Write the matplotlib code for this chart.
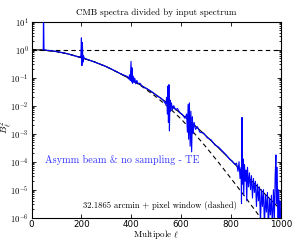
import matplotlib
matplotlib.use("Agg")
import matplotlib.pyplot as plt
from matplotlib.ticker import FixedLocator, FuncFormatter, LogLocator, NullFormatter
import numpy as np

plt.rcParams["mathtext.fontset"] = "cm"

# smooth beam curve and beam + pixel window curve (log10 values)
ell_grid = [0, 50, 100, 150, 200, 250, 300, 350, 400, 450, 500, 550, 600, 650,
            700, 750, 800, 850, 900, 950, 1000]
beam_log = [0, -0.02, -0.07, -0.16, -0.29, -0.43, -0.61, -0.83, -1.07, -1.33, -1.62,
            -1.94, -2.29, -2.67, -3.08, -3.51, -3.95, -4.40, -4.84, -5.28, -5.72]
pixwin_log = [0, -0.02, -0.07, -0.16, -0.29, -0.43, -0.61, -0.83, -1.07, -1.36, -1.69,
              -2.06, -2.48, -2.96, -3.48, -4.03, -4.60, -5.18, -5.78, -6.40, -7.05]

# measured spectrum ratio (log10 values)
meas_ell = [47, 48, 49, 50, 60, 80, 100, 120, 140, 160, 180, 195, 198, 200, 202, 204, 206,
            208, 212, 230, 260, 290, 320, 350, 370, 385, 390, 393, 396, 399, 401, 403, 405,
            408, 411, 414, 418, 422, 428, 435, 445, 460, 475, 490, 505, 520, 530, 538, 542,
            545, 547, 549, 551, 553, 555, 558, 561, 565, 570, 578, 585, 595, 605, 615, 622,
            625, 628, 630, 633, 636, 639, 642, 645, 648, 652, 658, 665, 675, 690, 705, 720,
            735, 750, 765, 780, 795, 805, 815, 822, 828, 832, 836, 840, 842, 844, 846, 848,
            851, 854, 857, 860, 863, 866, 870, 874, 878, 882, 886, 890, 894, 898, 902, 906,
            910, 914, 918, 922, 926, 930, 934, 938, 942, 946, 950, 954, 958, 962, 966, 970,
            974, 977, 980, 982, 985, 988, 991, 994, 996, 998, 1000]
meas_log = [0.0, 1.6, 0.6, 0.0, -0.02, -0.04, -0.07, -0.10, -0.14, -0.19, -0.24, -0.27,
            -0.20, 0.42, -0.57, 0.25, -0.45, -0.22, -0.31, -0.37, -0.47, -0.57, -0.69, -0.83,
            -0.91, -0.96, -1.05, -0.90, -1.10, -0.42, -1.15, -0.65, -1.20, -0.95, -1.18, -1.02,
            -1.22, -1.10, -1.22, -1.20, -1.32, -1.38, -1.46, -1.55, -1.66, -1.74, -1.83, -1.95,
            -1.70, -2.30, -1.30, -2.60, -1.25, -2.90, -1.80, -2.20, -1.90, -2.15, -2.00, -2.15,
            -2.10, -2.25, -2.32, -2.45, -2.30, -2.95, -1.95, -3.20, -1.90, -3.45, -2.20, -3.65,
            -2.40, -3.00, -2.60, -2.85, -2.75, -2.95, -2.98, -3.15, -3.22, -3.40, -3.48, -3.62,
            -3.75, -3.92, -3.98, -4.10, -4.05, -4.35, -4.00, -4.60, -4.20, -5.50, -2.42, -4.80,
            -3.90, -5.20, -4.10, -4.70, -4.30, -5.40, -4.20, -4.90, -4.40, -5.00, -4.50, -5.30,
            -4.60, -5.10, -4.70, -5.60, -4.80, -5.40, -4.90, -6.20, -5.00, -5.60, -5.00, -6.30,
            -5.20, -5.80, -5.10, -6.40, -5.30, -5.90, -5.20, -6.50, -5.00, -6.00, -4.50, -3.76,
            -5.50, -4.20, -6.50, -5.00, -6.20, -5.40, -6.50, -5.80]

xticks = [0, 200, 400, 600, 800, 1000]

fig = plt.figure(figsize=(2.92, 2.40), dpi=100)
ax = fig.add_axes([0.108, 0.093, 0.854, 0.817])

ax.semilogy(ell_grid, 10.0 ** np.array(beam_log), color="black", lw=0.8, zorder=2)
ax.semilogy(ell_grid, 10.0 ** np.array(pixwin_log), color="black", lw=0.8,
            linestyle=(0, (4, 3)), zorder=2)
ax.semilogy([0, 1000], [1, 1], color="black", lw=0.8, linestyle=(0, (4, 3)), zorder=2)
ax.semilogy(meas_ell, 10.0 ** np.array(meas_log), color="#0000ff", lw=0.8, zorder=3)

ax.set_xlim(0, 1000)
ax.set_ylim(1e-6, 1e1)
ax.xaxis.set_major_locator(FixedLocator(xticks))
ax.yaxis.set_major_locator(LogLocator(base=10, numticks=10))
ax.yaxis.set_minor_locator(LogLocator(base=10, subs=np.arange(2, 10), numticks=10))
ax.yaxis.set_minor_formatter(NullFormatter())
ax.yaxis.set_major_formatter(FuncFormatter(lambda v, p: r"$\mathsf{10^{%d}}$" % round(np.log10(v))))
ax.tick_params(which="both", direction="in", top=True, right=True, labelsize=6.3,
               width=0.6, pad=2)
ax.tick_params(which="major", length=3)
ax.tick_params(which="minor", length=1.5)
for s in ax.spines.values():
    s.set_linewidth(0.8)

serif = ["cmr10", "DejaVu Serif"]
ax.set_title("CMB spectra divided by input spectrum", fontsize=6.5, family=serif, pad=5)
ax.set_xlabel(r"Multipole $\ell$", fontsize=6.5, family=serif)
ax.xaxis.set_label_coords(0.5, -0.052)
ax.set_ylabel(r"$B_\ell^2$", fontsize=7)
ax.yaxis.set_label_coords(-0.072, 0.46)
ax.text(54, 10 ** -3.95, "Asymm beam & no sampling - TE",
        color="#3333ff", fontsize=7.3, family=serif, va="center")
ax.text(205, 10 ** -5.55, "32.1865 arcmin + pixel window (dashed)",
        color="black", fontsize=6.2, family=serif, va="center")

fig.savefig("out.png", dpi=100)
